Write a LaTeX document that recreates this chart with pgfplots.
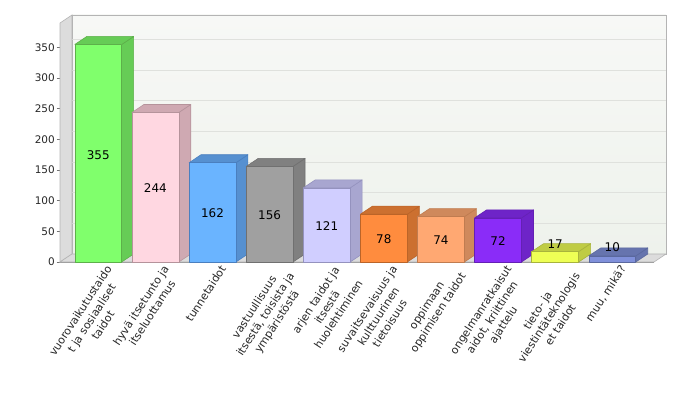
\documentclass[border=0pt]{standalone}
\usepackage{pgfplots}
\pgfplotsset{compat=1.18}
\usepackage{pgfplotstable}
\usepackage{fontspec}
\setmainfont{DejaVu Sans}

\definecolor{c0f}{HTML}{80FF6C}\definecolor{c0s}{HTML}{66CC56}\definecolor{c0e}{HTML}{5DB04A}
\definecolor{c1f}{HTML}{FFD7E1}\definecolor{c1s}{HTML}{CFA9B2}\definecolor{c1e}{HTML}{B5939B}
\definecolor{c2f}{HTML}{6AB4FF}\definecolor{c2s}{HTML}{5690D0}\definecolor{c2e}{HTML}{4A7FBF}
\definecolor{c3f}{HTML}{A0A0A0}\definecolor{c3s}{HTML}{808080}\definecolor{c3e}{HTML}{707070}
\definecolor{c4f}{HTML}{D0CEFF}\definecolor{c4s}{HTML}{A8A6D0}\definecolor{c4e}{HTML}{9492BE}
\definecolor{c5f}{HTML}{FF8C3E}\definecolor{c5s}{HTML}{CC7030}\definecolor{c5e}{HTML}{BB6428}
\definecolor{c6f}{HTML}{FFA872}\definecolor{c6s}{HTML}{CF895C}\definecolor{c6e}{HTML}{C07C50}
\definecolor{c7f}{HTML}{8A2CF8}\definecolor{c7s}{HTML}{6E24C8}\definecolor{c7e}{HTML}{6420B4}
\definecolor{c8f}{HTML}{EEFF55}\definecolor{c8s}{HTML}{BFCC44}\definecolor{c8e}{HTML}{A8B43C}
\definecolor{c9f}{HTML}{8090DA}\definecolor{c9s}{HTML}{6674AE}\definecolor{c9e}{HTML}{5A689E}
\definecolor{wallL}{HTML}{DCDCDC}
\definecolor{wallTop}{HTML}{F7F8F6}
\definecolor{wallBot}{HTML}{EEF2EC}
\definecolor{frame}{HTML}{B4B4B4}
\definecolor{gridc}{HTML}{DFE1DD}

\pgfplotstableread{
x v ly
0 355 175
1 244 120
2 162 79
3 156 76
4 121 58
5 78 38
6 74 35
7 72 34
8 17 29
9 10 24
}\datatable

\def\dx{0.21}
\def\dy{13.07}
\def\hw{0.41}

\begin{document}
\fontsize{10.5}{13}\selectfont
\begin{tikzpicture}
\useasboundingbox (0bp,0bp) rectangle (680bp,-400bp);
\begin{axis}[
  at={(60bp,-262bp)}, anchor=south west,
  scale only axis, width=594bp, height=239bp,
  xmin=-0.67, xmax=9.73, ymin=0, ymax=390,
  clip=false,
  axis lines*=left,
  axis line style={draw=black!45, line width=0.6bp},
  ytick={0,50,...,350},
  xtick={0,...,9},
  xticklabels={
    {vuorovaikutustaido\\t ja sosiaaliset\\taidot},
    {hyvä itsetunto ja\\itseluottamus},
    {tunnetaidot},
    {vastuullisuus\\itsestä, toisista ja\\ympäristöstä},
    {arjen taidot ja\\itsestä\\huolehtiminen},
    {suvaitsevaisuus ja\\kulttuurinen\\tietoisuus},
    {oppimaan\\oppimisen taidot},
    {ongelmanratkaisut\\aidot, kriittinen\\ajattelu},
    {tieto- ja\\viestintäteknologis\\et taidot},
    {muu, mikä?}},
  xtick style={draw=none},
  ytick style={draw=black!55, line width=0.6bp},
  tick align=outside,
  major tick length=3.5bp,
  /pgf/number format/assume math mode=true,
  yticklabel style={font=\fontsize{10.5}{12}\selectfont, text=black!85, inner sep=1.5bp},
  xticklabel style={font=\fontsize{11}{13.5}\selectfont, text=black!85, rotate=57,
    anchor=north east, align=center, inner sep=0pt, xshift=5bp, yshift=-5bp},
]
% back wall
\path[top color=wallTop, bottom color=wallBot, draw=frame, line width=0.6bp]
  (-0.67+\dx,\dy) rectangle (9.73+\dx,390+\dy);
% grid lines on back wall
\pgfplotsinvokeforeach{50,100,...,350}{
  \draw[gridc, line width=0.6bp] (-0.67+\dx,#1+\dy) -- (9.73+\dx,#1+\dy);
}
% left wall
\draw[fill=wallL, draw=frame, line width=0.6bp]
  (-0.67,0) -- (-0.67+\dx,\dy) -- (-0.67+\dx,390+\dy) -- (-0.67,390) -- cycle;
% floor
\draw[fill=wallL, draw=frame, line width=0.6bp]
  (-0.67,0) -- (9.73,0) -- (9.73+\dx,\dy) -- (-0.67+\dx,\dy) -- cycle;
% bars
\pgfplotsinvokeforeach{0,...,9}{
  \pgfplotstablegetelem{#1}{v}\of\datatable
  \let\val\pgfplotsretval
  \pgfmathsetmacro\xa{#1-\hw}
  \pgfmathsetmacro\xb{#1+\hw}
  \pgfmathsetmacro\xc{#1+\hw+\dx}
  \pgfmathsetmacro\xd{#1-\hw+\dx}
  \pgfmathsetmacro\vt{\val+\dy}
  \edef\barcmd{%
    \noexpand\addplot[fill=c#1s, draw=c#1e, line width=0.6bp, line join=round]
      coordinates {(\xb,0) (\xc,\dy) (\xc,\vt) (\xb,\val)} -- cycle;
    \noexpand\addplot[fill=c#1s, draw=c#1e, line width=0.6bp, line join=round]
      coordinates {(\xa,\val) (\xb,\val) (\xc,\vt) (\xd,\vt)} -- cycle;
    \noexpand\addplot[fill=c#1f, draw=c#1e, line width=0.6bp, line join=round]
      coordinates {(\xa,0) (\xb,0) (\xb,\val) (\xa,\val)} -- cycle;
  }%
  \barcmd
}
% value labels
\addplot[draw=none, mark=none, nodes near coords, point meta=explicit symbolic,
  every node near coord/.append style={font=\fontsize{12}{14}\selectfont, text=black, anchor=center, inner sep=0pt}]
  table[x=x, y=ly, meta=v] {\datatable};
\end{axis}
\end{tikzpicture}
\end{document}
